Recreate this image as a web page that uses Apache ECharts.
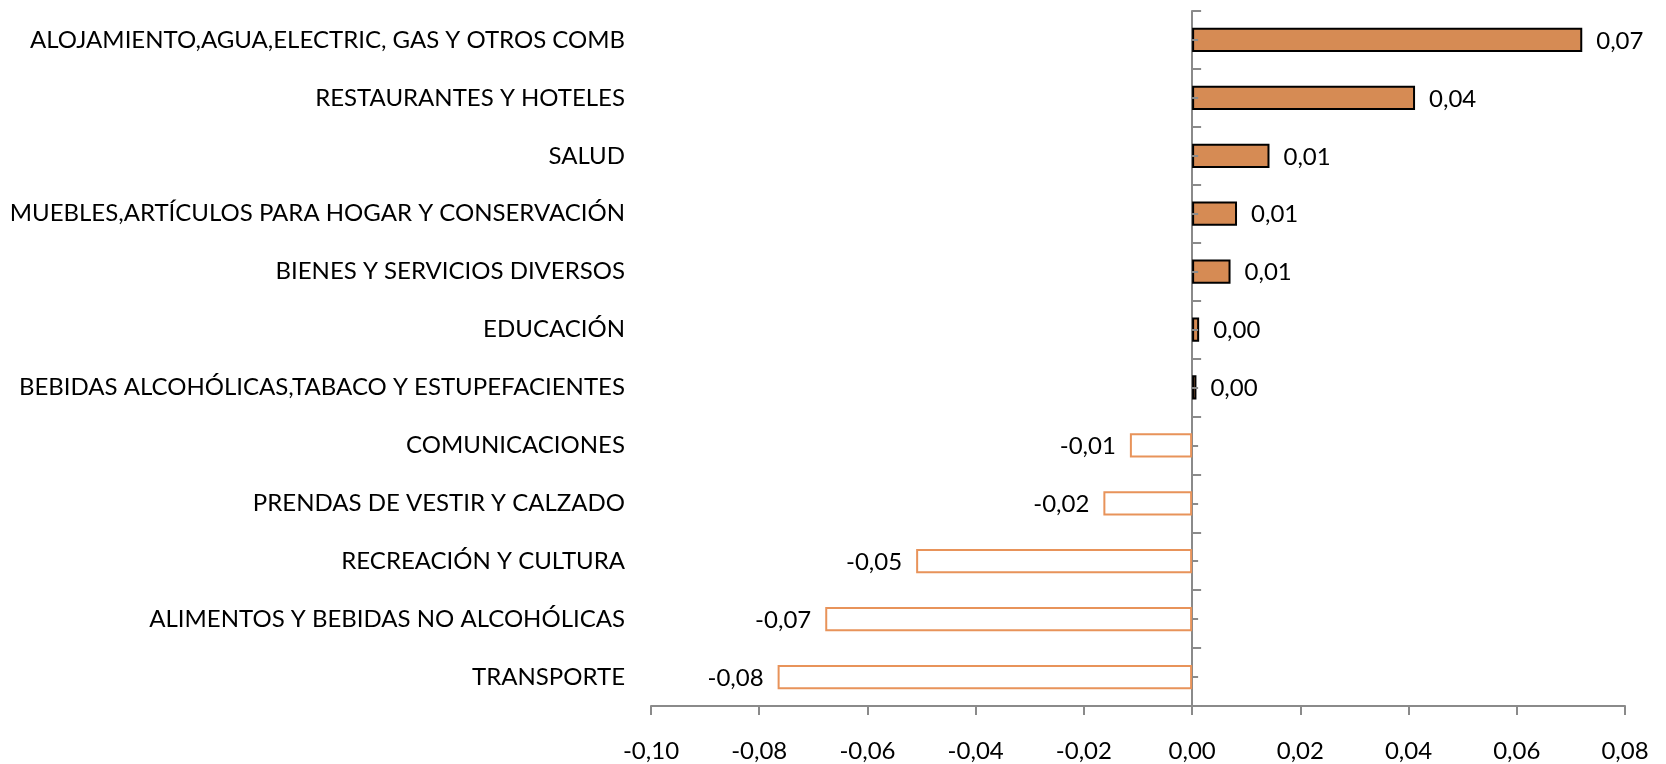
<!DOCTYPE html>
<html>
<head>
<meta charset="utf-8">
<script src="https://cdn.jsdelivr.net/npm/echarts@6/dist/echarts.min.js"></script>
<style>
html,body{margin:0;padding:0;background:#fff;}
#chart{width:1666px;height:764px;}
</style>
</head>
<body>
<div id="chart"></div>
<script>
const categories = [
  "ALOJAMIENTO,AGUA,ELECTRIC, GAS Y OTROS COMB",
  "RESTAURANTES Y HOTELES",
  "SALUD",
  "MUEBLES,ARTÍCULOS PARA HOGAR Y CONSERVACIÓN",
  "BIENES Y SERVICIOS DIVERSOS",
  "EDUCACIÓN",
  "BEBIDAS ALCOHÓLICAS,TABACO Y ESTUPEFACIENTES",
  "COMUNICACIONES",
  "PRENDAS DE VESTIR Y CALZADO",
  "RECREACIÓN Y CULTURA",
  "ALIMENTOS Y BEBIDAS NO ALCOHÓLICAS",
  "TRANSPORTE"
];
const values = [0.0721, 0.0412, 0.0143, 0.0083, 0.0071, 0.0013, 0.0008, -0.0115, -0.0164, -0.0510, -0.0678, -0.0766];
const xTicks = { min: -0.10, max: 0.08, interval: 0.02 };

const FONT = 'Lato';
const FS = 24;
const fmt = v => (Math.abs(v) < 1e-9 ? 0 : v).toFixed(2).replace('.', ',');

const barData = values.map(v => {
  const pos = v >= 0;
  return {
    value: v,
    itemStyle: pos
      ? { color: '#D68B54', borderColor: '#000000', borderWidth: 2 }
      : { color: '#FFFFFF', borderColor: '#E8935A', borderWidth: 2 },
    label: { position: pos ? 'right' : 'left' }
  };
});

const chart = echarts.init(document.getElementById('chart'), null, { renderer: 'canvas' });
chart.setOption({
  animation: false,
  backgroundColor: '#FFFFFF',
  grid: { left: 651, right: 41, top: 11, bottom: 58, containLabel: false },
  xAxis: {
    type: 'value',
    min: xTicks.min, max: xTicks.max, interval: xTicks.interval,
    splitLine: { show: false },
    axisLine: { show: true, onZero: false, lineStyle: { color: '#8A8A8A', width: 2 } },
    axisTick: { show: true, length: 9, lineStyle: { color: '#8A8A8A', width: 2 } },
    axisLabel: { margin: 33, color: '#000', fontFamily: FONT, fontSize: FS, formatter: v => fmt(v) }
  },
  yAxis: [
    {
      type: 'category', data: categories, inverse: true,
      axisLine: { show: false, onZero: false }, axisTick: { show: false },
      axisLabel: { margin: 26, color: '#000', fontFamily: FONT, fontSize: FS }
    },
    {
      type: 'category', data: categories, inverse: true, position: 'right',
      axisLine: { show: true, onZero: true, onZeroAxisIndex: 0, lineStyle: { color: '#8A8A8A', width: 2 } },
      axisTick: { show: true, length: 9, interval: 0, lineStyle: { color: '#8A8A8A', width: 2 } },
      axisLabel: { show: false }
    },
    {
      type: 'category', data: categories, inverse: true, position: 'right',
      axisLine: { show: false, onZero: true, onZeroAxisIndex: 0 },
      axisTick: { show: true, alignWithLabel: true, length: 6, interval: 0, lineStyle: { color: '#8A8A8A', width: 2 } },
      axisLabel: { show: false },
      z: 5
    }
  ],
  series: [{
    type: 'bar',
    yAxisIndex: 0,
    data: barData,
    barWidth: '42%',
    label: {
      show: true, distance: 14, color: '#000', fontFamily: FONT, fontSize: FS,
      offset: [0, 1],
      formatter: p => fmt(p.value)
    }
  }]
});
</script>
</body>
</html>
